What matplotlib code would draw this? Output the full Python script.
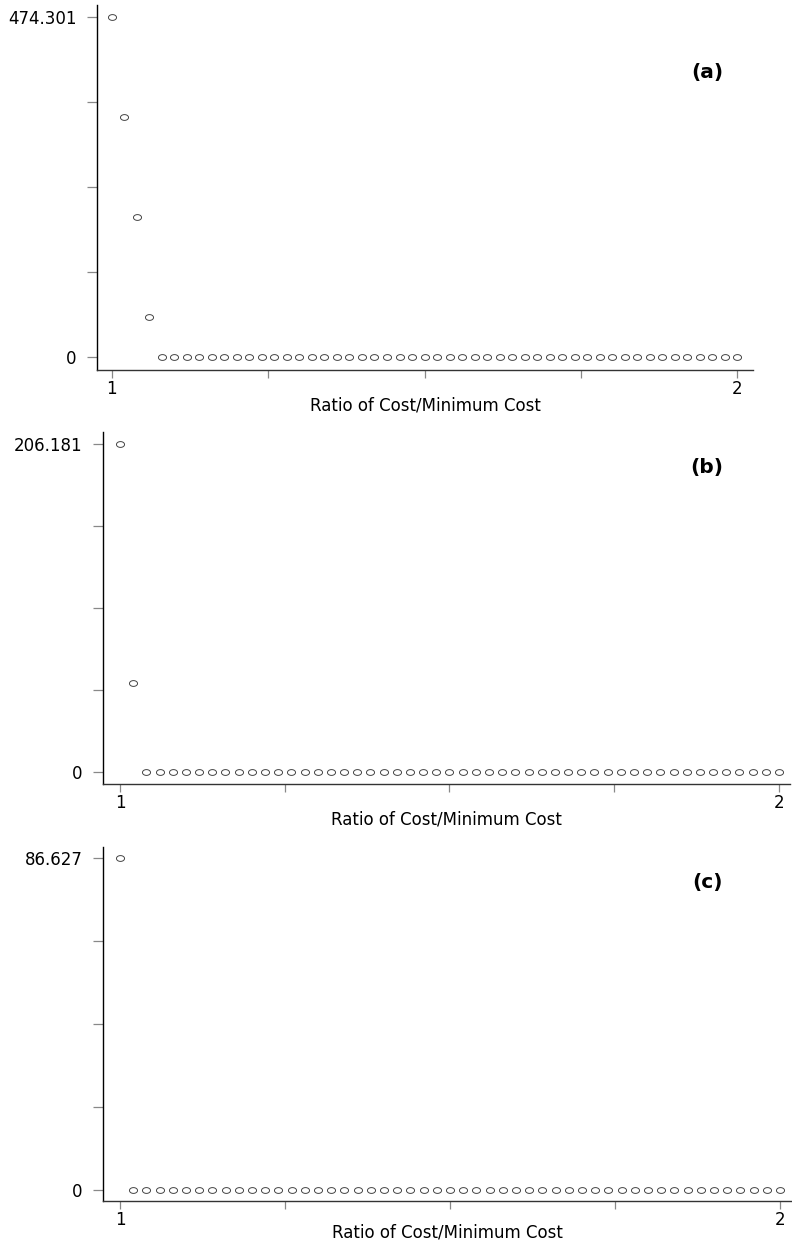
import numpy as np
import matplotlib
matplotlib.use("Agg")
import matplotlib.pyplot as plt
from matplotlib.path import Path

# Cost ratio levels (cost / minimum cost)
ratio = [1.00, 1.02, 1.04, 1.06, 1.08, 1.10, 1.12, 1.14, 1.16, 1.18,
         1.20, 1.22, 1.24, 1.26, 1.28, 1.30, 1.32, 1.34, 1.36, 1.38,
         1.40, 1.42, 1.44, 1.46, 1.48, 1.50, 1.52, 1.54, 1.56, 1.58,
         1.60, 1.62, 1.64, 1.66, 1.68, 1.70, 1.72, 1.74, 1.76, 1.78,
         1.80, 1.82, 1.84, 1.86, 1.88, 1.90, 1.92, 1.94, 1.96, 1.98,
         2.00]

zeros_tail = [0.0] * 47
values_a = [474.301, 334.5, 195.6, 55.9] + zeros_tail
values_b = [206.181, 55.9, 0.0, 0.0] + zeros_tail
values_c = [86.627, 0.0, 0.0, 0.0] + zeros_tail

panel_labels = ["(a)", "(b)", "(c)"]
x_label = "Ratio of Cost/Minimum Cost"
x_tick_labels = ["1", "2"]

W, H = 792, 1242
fig = plt.figure(figsize=(W / 100, H / 100), dpi=100)
plt.rcParams["font.family"] = ["DejaVu Sans"]

# slightly flattened open circle marker
t = np.linspace(0, 2 * np.pi, 60)
ellipse = Path(np.column_stack([np.cos(t), 0.72 * np.sin(t)]), closed=True)

def px_axes(left, top, right, bottom):
    return fig.add_axes([left / W, 1 - bottom / H, (right - left) / W, (bottom - top) / H])

specs = [
    (px_axes(97, 5, 753, 370), values_a, (0.9765, 2.025), (-18.6, 491.5), "474.301", (0.930, 0.815), -1.5),
    (px_axes(103, 432, 790, 784), values_b, (0.9742, 2.0167), (-7.35, 213.7), "206.181", (0.879, 0.90), -1.5),
    (px_axes(103, 847, 792, 1201), values_c, (0.9742, 2.0182), (-2.87, 89.58), "86.627", (0.877, 0.90), -4.0),
]

for (ax, vals, xl, yl, toplab, lpos, lpad), lab in zip(specs, panel_labels):
    ax.plot(ratio, vals, linestyle="none", marker=ellipse, markersize=5.8,
            markerfacecolor="none", markeredgecolor="#444444", markeredgewidth=0.7)
    ax.set_xlim(*xl)
    ax.set_ylim(*yl)
    top = vals[0]
    ax.set_yticks([0, top / 4, top / 2, 3 * top / 4, top])
    ax.set_yticklabels(["0", "", "", "", toplab])
    ax.set_xticks([1, 1.25, 1.5, 1.75, 2])
    ax.set_xticklabels([x_tick_labels[0], "", "", "", x_tick_labels[1]])
    for s in ("top", "right"):
        ax.spines[s].set_visible(False)
    ax.spines["left"].set_color("black")
    ax.spines["left"].set_linewidth(1.0)
    ax.spines["bottom"].set_color("#333333")
    ax.spines["bottom"].set_linewidth(1.0)
    ax.tick_params(axis="y", direction="out", length=7, width=0.9, color="#888888",
                   pad=7.5, labelsize=12, labelcolor="black")
    ax.tick_params(axis="x", direction="out", length=5.5, width=0.9, color="#888888",
                   pad=2, labelsize=12, labelcolor="black")
    ax.set_xlabel(x_label, fontsize=12, labelpad=lpad)
    ax.text(lpos[0], lpos[1], lab, transform=ax.transAxes, fontsize=14.5,
            fontweight="bold", ha="center", va="center")

fig.savefig("out.png", dpi=100)
